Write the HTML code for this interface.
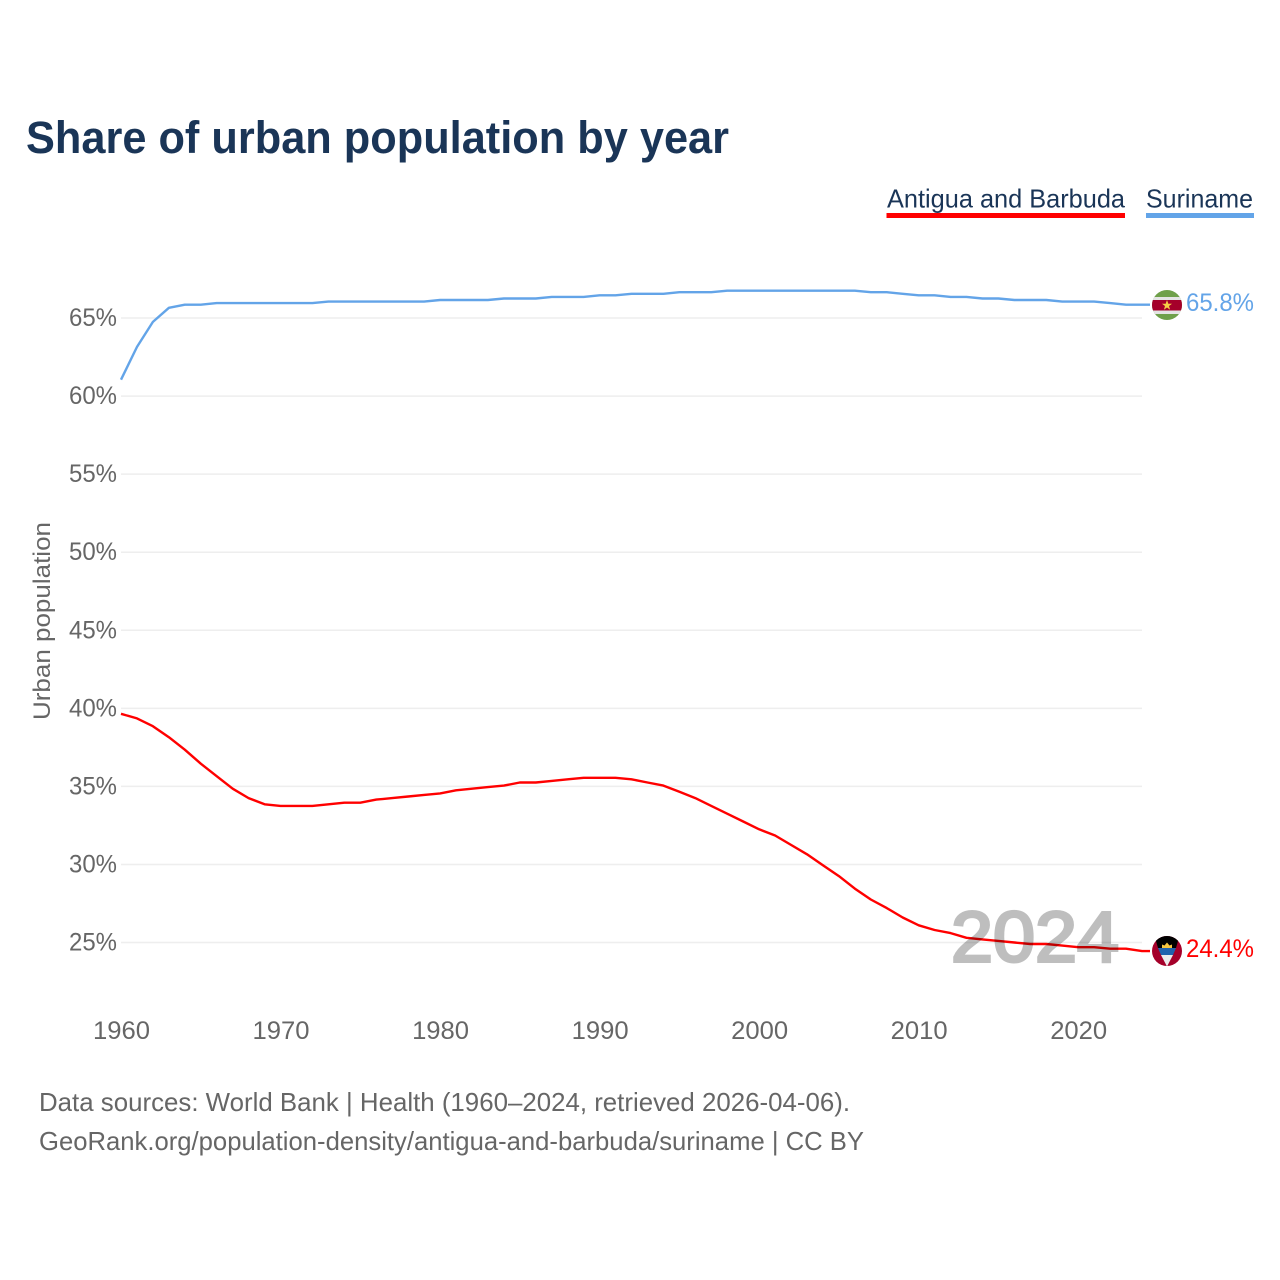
<!DOCTYPE html>
<html>
<head>
<meta charset="utf-8">
<title>Share of urban population by year</title>
<style>
html,body{margin:0;padding:0;background:#fff}
svg{display:block}
text{font-family:"Liberation Sans",sans-serif}
</style>
</head>
<body>
<svg id="chart" width="1280" height="1280" viewBox="0 0 1280 1280" xmlns="http://www.w3.org/2000/svg">
  <defs>
    <clipPath id="clip-sr"><circle cx="1167" cy="305" r="15"/></clipPath>
    <clipPath id="clip-ag"><circle cx="1167" cy="951" r="15"/></clipPath>
  </defs>
  <rect width="1280" height="1280" fill="#fff"/>
  <text x="26" y="153" font-size="45" font-weight="700" fill="#1a3557" textLength="703" lengthAdjust="spacingAndGlyphs">Share of urban population by year</text>

  <g>
    <text x="887" y="207.500" font-size="26" fill="#1a3557" textLength="238" lengthAdjust="spacingAndGlyphs">Antigua and Barbuda</text>
    <rect x="886.500" y="213" width="238.500" height="5" fill="#ff0000"/>
  </g>
  <g>
    <text x="1146" y="207.500" font-size="26" fill="#1a3557" textLength="107" lengthAdjust="spacingAndGlyphs">Suriname</text>
    <rect x="1146" y="213" width="108" height="5" fill="#63a4e8"/>
  </g>

  <g id="grid"></g>
  <g id="yticks"></g>
  <g id="xticks"></g>
  <text transform="translate(50,720) rotate(-90)" font-size="24" fill="#666" textLength="198" lengthAdjust="spacingAndGlyphs">Urban population</text>
  <g id="series" transform="translate(0,-0.8)"></g>

  <text x="951" y="961.500" font-size="71" fill="#000" stroke="#000" stroke-width="3" opacity="0.25" textLength="168" lengthAdjust="spacingAndGlyphs">2024</text>

  <g clip-path="url(#clip-sr)">
    <rect x="1150" y="288" width="34" height="34" fill="#6fa04a"/>
    <rect x="1150" y="297" width="34" height="3" fill="#e4e4e4"/>
    <rect x="1150" y="300" width="34" height="10.500" fill="#a5002a"/>
    <rect x="1150" y="310.500" width="34" height="3.500" fill="#e4e4e4"/>
    <polygon points="1167,300 1168.300,303.700 1172,303.700 1169,306 1170.100,309.700 1167,307.500 1163.900,309.700 1165,306 1162,303.700 1165.700,303.700" fill="#f7cf46"/>
  </g>
  <g clip-path="url(#clip-ag)">
    <rect x="1150" y="934" width="34" height="34" fill="#a5002a"/>
    <polygon points="1154,934 1180,934 1176,948 1158,948" fill="#000"/>
    <polygon points="1158,948 1176,948 1173,955 1161,955" fill="#1f62ad"/>
    <polygon points="1161,955 1173,955 1167,966.500" fill="#ececec"/>
    <path d="M1162 948 L1162 944.500 L1164.500 945.500 L1167 942.500 L1169.500 945.500 L1172 944.500 L1172 948 Z" fill="#f4c53f"/>
  </g>

  <text id="label-sr" x="1186" y="311" font-size="25" fill="#63a4e8" textLength="68" lengthAdjust="spacingAndGlyphs"></text>
  <text id="label-ag" x="1186" y="957" font-size="25" fill="#ff0000" textLength="68" lengthAdjust="spacingAndGlyphs"></text>

  <text x="39" y="1111" font-size="26" fill="#666" textLength="811" lengthAdjust="spacingAndGlyphs">Data sources: World Bank | Health (1960–2024, retrieved 2026-04-06).</text>
  <text x="39" y="1150" font-size="26" fill="#666" textLength="825" lengthAdjust="spacingAndGlyphs">GeoRank.org/population-density/antigua-and-barbuda/suriname | CC BY</text>
</svg>
<script>
const years = [1960,1961,1962,1963,1964,1965,1966,1967,1968,1969,1970,1971,1972,1973,1974,1975,1976,1977,1978,1979,1980,1981,1982,1983,1984,1985,1986,1987,1988,1989,1990,1991,1992,1993,1994,1995,1996,1997,1998,1999,2000,2001,2002,2003,2004,2005,2006,2007,2008,2009,2010,2011,2012,2013,2014,2015,2016,2017,2018,2019,2020,2021,2022,2023,2024];
const surinameValues = [61.0,63.1,64.7,65.6,65.8,65.8,65.9,65.9,65.9,65.9,65.9,65.9,65.9,66.0,66.0,66.0,66.0,66.0,66.0,66.0,66.1,66.1,66.1,66.1,66.2,66.2,66.2,66.3,66.3,66.3,66.4,66.4,66.5,66.5,66.5,66.6,66.6,66.6,66.7,66.7,66.7,66.7,66.7,66.7,66.7,66.7,66.7,66.6,66.6,66.5,66.4,66.4,66.3,66.3,66.2,66.2,66.1,66.1,66.1,66.0,66.0,66.0,65.9,65.8,65.8];
const antiguaValues = [39.6,39.3,38.8,38.1,37.3,36.4,35.6,34.8,34.2,33.8,33.7,33.7,33.7,33.8,33.9,33.9,34.1,34.2,34.3,34.4,34.5,34.7,34.8,34.9,35.0,35.2,35.2,35.3,35.4,35.5,35.5,35.5,35.4,35.2,35.0,34.6,34.2,33.7,33.2,32.7,32.2,31.8,31.2,30.6,29.9,29.2,28.4,27.7,27.15,26.55,26.05,25.75,25.55,25.25,25.15,25.05,24.95,24.85,24.85,24.75,24.65,24.65,24.55,24.55,24.4];
const yTickValues = [25,30,35,40,45,50,55,60,65];
const xTickValues = [1960,1970,1980,1990,2000,2010,2020];

const NS = 'http://www.w3.org/2000/svg';
function xScale(year) { return 121 + (year - 1960) * (1142 - 121) / 64; }
function yScale(value) { return 942.5 - (value - 25) * (942.5 - 318) / 40; }
function make(tag, parent, attrs) {
  const el = document.createElementNS(NS, tag);
  for (const k in attrs) el.setAttribute(k, attrs[k]);
  parent.appendChild(el);
  return el;
}

const grid = document.getElementById('grid');
const yticks = document.getElementById('yticks');
yTickValues.forEach(function (v) {
  const line = make('line', grid, { x1: 121, x2: 1142, y1: yScale(v), y2: yScale(v), stroke: '#eeeeee', 'stroke-width': 1.5 });
  
  
  const t = make('text', yticks, { x: 69, y: yScale(v) + 8, 'font-size': 25, fill: '#666', textLength: 48, lengthAdjust: 'spacingAndGlyphs' });
  t.textContent = v + '%';
  
  
});

const xticks = document.getElementById('xticks');
xTickValues.forEach(function (yr) {
  const t = make('text', xticks, { x: xScale(yr) - 28, y: 1039, 'font-size': 25, fill: '#666', textLength: 57, lengthAdjust: 'spacingAndGlyphs' });
  t.textContent = String(yr);
  
  
});

const seriesGroup = document.getElementById('series');
function drawSeries(values, color) {
  const last = values[values.length - 1];
  const pts = years.map(function (yr, i) { return xScale(yr).toFixed(1) + ',' + yScale(values[i]).toFixed(1); });
  pts.push('1150,' + yScale(last).toFixed(1));
  return make('polyline', seriesGroup, { points: pts.join(' '), fill: 'none', stroke: color, 'stroke-width': 2.4, 'stroke-linejoin': 'round' });
}
const lineAg = drawSeries(antiguaValues, '#ff0000');


const lineSr = drawSeries(surinameValues, '#63a4e8');



document.getElementById('label-sr').textContent = surinameValues[surinameValues.length - 1].toFixed(1) + '%';
document.getElementById('label-ag').textContent = antiguaValues[antiguaValues.length - 1].toFixed(1) + '%';
</script>
</body>
</html>
